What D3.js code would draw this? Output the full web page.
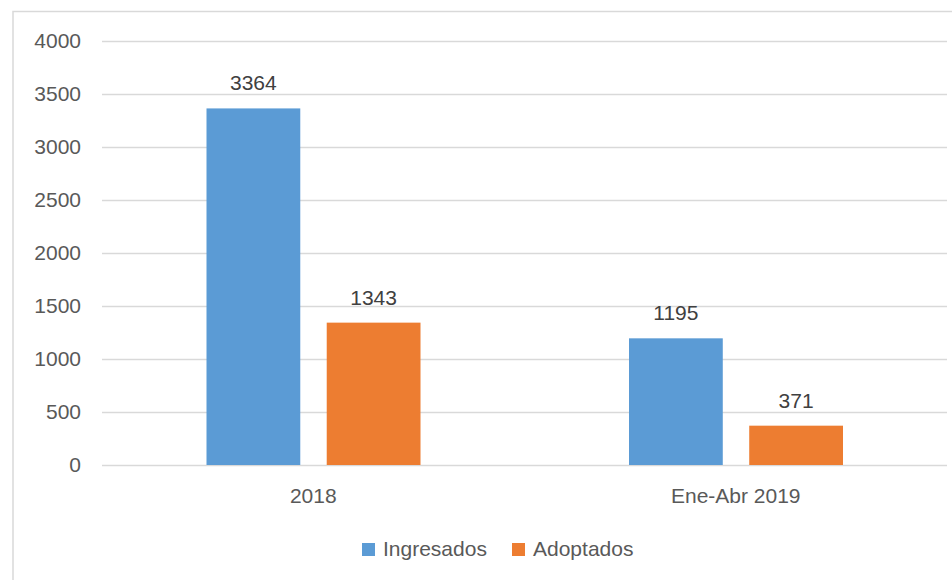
<!DOCTYPE html>
<html>
<head>
<meta charset="utf-8">
<script src="https://cdn.jsdelivr.net/npm/d3@7"></script>
<style>
  body { margin: 0; background: white; }
</style>
</head>
<body>
<main></main>
<script>
// data
let categories = ["2018", "Ene-Abr 2019"]
let seriesNames = ["Ingresados", "Adoptados"]
let ingresados = [3364, 1195]
let adoptados = [1343, 371]
let yTicks = [0, 500, 1000, 1500, 2000, 2500, 3000, 3500, 4000]

let colors = ["#5B9BD5", "#ED7D31"]

//set dimensions
const svgWidth = 952
const svgHeight = 580

const plotLeft = 102
const plotRight = 947
const plotTop = 41
const plotBottom = 465

let svg = d3.select("main")
    .append("svg")
    .attr("width", svgWidth)
    .attr("height", svgHeight)
    .style("display", "block")
    .style("font-family", "'Liberation Sans', Arial, sans-serif")

// chart border (right and bottom edges fall outside the picture)
svg.append("rect")
    .attr("x", 13)
    .attr("y", 11.5)
    .attr("width", 960)
    .attr("height", 600)
    .style("fill", "none")
    .style("stroke", "#d9d9d9")
    .style("stroke-width", 1.5)

//scales
let yScale = d3.scaleLinear()
    .domain([0, 4000])
    .range([plotBottom, plotTop])

let xScale = d3.scaleBand()
    .domain(categories)
    .range([plotLeft, plotRight])

let xInner = d3.scaleBand()
    .domain(seriesNames)
    .range([104.5, 318.5])
    .paddingInner(0.22)

let color = d3.scaleOrdinal().domain(seriesNames).range(colors)

//gridlines + y labels
let leftAxis = d3.axisLeft(yScale)
    .tickValues(yTicks)
    .tickFormat(d3.format("d"))
    .tickSize(-(plotRight - plotLeft))
    .tickPadding(21)

let yAxis = svg.append("g")
    .attr("transform", `translate(${plotLeft}, 0)`)
    .call(leftAxis)

yAxis.select(".domain").remove()

yAxis.selectAll("line")
    .style("stroke", "#d9d9d9")
    .style("stroke-width", 1.5)

yAxis.selectAll("text")
    .style("fill", "#595959")
    .style("font-size", "21px")
    .style("font-family", "'Liberation Sans', Arial, sans-serif")

//bars
let rows = categories.map((c, i) => ({
    category: c,
    values: [
        {name: seriesNames[0], value: ingresados[i]},
        {name: seriesNames[1], value: adoptados[i]}
    ]
}))

let groups = svg.selectAll(".group")
    .data(rows)
    .enter()
    .append("g")
    .attr("transform", d => `translate(${xScale(d.category)}, 0)`)

groups.selectAll("rect")
    .data(d => d.values)
    .enter()
    .append("rect")
    .attr("x", d => xInner(d.name))
    .attr("y", d => yScale(d.value))
    .attr("width", xInner.bandwidth())
    .attr("height", d => plotBottom - yScale(d.value))
    .style("fill", d => color(d.name))

// value labels
groups.selectAll(".val")
    .data(d => d.values)
    .enter()
    .append("text")
    .attr("x", d => xInner(d.name) + xInner.bandwidth() / 2)
    .attr("y", d => yScale(d.value) - 18)
    .attr("text-anchor", "middle")
    .style("fill", "#404040")
    .style("font-size", "21px")
    .text(d => d.value)

//category labels
svg.selectAll(".cat")
    .data(categories)
    .enter()
    .append("text")
    .attr("x", d => xScale(d) + xScale.bandwidth() / 2)
    .attr("y", 503)
    .attr("text-anchor", "middle")
    .style("fill", "#595959")
    .style("font-size", "21px")
    .text(d => d)

//legend
let legendX = [362, 512]

svg.selectAll(".legdot")
  .data(seriesNames)
  .enter()
  .append("rect")
    .attr("x", (d, i) => legendX[i])
    .attr("y", 543)
    .attr("width", 13)
    .attr("height", 13)
    .style("fill", d => color(d))

svg.selectAll(".leglabel")
  .data(seriesNames)
  .enter()
  .append("text")
    .attr("x", (d, i) => legendX[i] + 21)
    .attr("y", 556)
    .style("fill", "#595959")
    .style("font-size", "21px")
    .text(d => d)
</script>
</body>
</html>
